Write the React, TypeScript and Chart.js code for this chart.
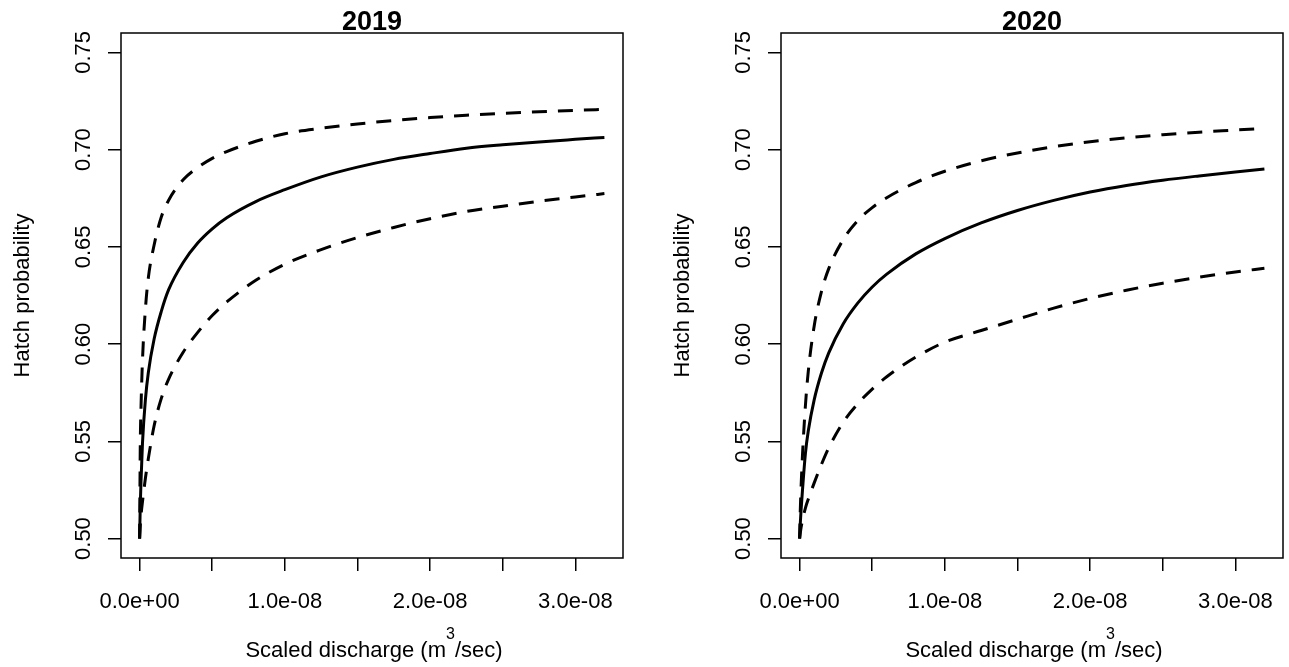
import React, { useEffect, useRef } from "react";
import { Chart, registerables } from "chart.js";

Chart.register(...registerables);

// Scaled discharge (m^3/sec)
const discharge = [
  0, 0.005e-8, 0.01e-8, 0.02e-8, 0.04e-8, 0.06e-8, 0.1e-8, 0.15e-8, 0.2e-8, 0.3e-8,
  0.4e-8, 0.5e-8, 0.6e-8, 0.8e-8, 1.0e-8, 1.25e-8, 1.5e-8, 1.75e-8, 2.0e-8, 2.25e-8,
  2.5e-8, 2.75e-8, 3.0e-8, 3.2e-8,
];

// 2019 panel
const fit2019 = [
  0.5, 0.518, 0.53, 0.5493, 0.5715, 0.5853, 0.6026, 0.617, 0.628, 0.642,
  0.652, 0.6593, 0.665, 0.6733, 0.6794, 0.686, 0.691, 0.695, 0.698, 0.7007,
  0.7025, 0.704, 0.7053, 0.7063,
];
const upper2019 = [
  0.5, 0.55, 0.568, 0.592, 0.618, 0.634, 0.651, 0.6655, 0.674, 0.6845,
  0.6908, 0.6955, 0.699, 0.7043, 0.7082, 0.711, 0.7132, 0.715, 0.7165, 0.7177,
  0.7187, 0.7195, 0.7202, 0.7207,
];
const lower2019 = [
  0.5, 0.507, 0.512, 0.519, 0.531, 0.541, 0.558, 0.5722, 0.582, 0.5958,
  0.606, 0.6147, 0.6217, 0.6328, 0.6411, 0.6486, 0.6548, 0.66, 0.6645, 0.6682,
  0.6709, 0.6735, 0.6757, 0.6774,
];

// 2020 panel
const fit2020 = [
  0.5, 0.508, 0.5145, 0.525, 0.5437, 0.5554, 0.5712, 0.585, 0.5954, 0.6104,
  0.6211, 0.6294, 0.636, 0.6464, 0.6543, 0.6623, 0.6687, 0.6739, 0.6782, 0.6816,
  0.6843, 0.6865, 0.6885, 0.69,
];
const upper2020 = [
  0.5, 0.515, 0.526, 0.543, 0.5683, 0.5861, 0.6091, 0.6269, 0.6387, 0.6537,
  0.6635, 0.6702, 0.6753, 0.6831, 0.6889, 0.6943, 0.6983, 0.7015, 0.7041, 0.7061,
  0.7077, 0.709, 0.7101, 0.711,
];
const lower2020 = [
  0.5, 0.503, 0.5055, 0.5095, 0.5157, 0.5203, 0.5285, 0.538, 0.5465, 0.5598,
  0.5693, 0.5769, 0.5832, 0.5933, 0.601, 0.607, 0.6128, 0.6185, 0.6235, 0.6277,
  0.6313, 0.6344, 0.6371, 0.639,
];

const xTicks = [0, 0.5e-8, 1.0e-8, 1.5e-8, 2.0e-8, 2.5e-8, 3.0e-8];
const xTickLabels = ["0.0e+00", "", "1.0e-08", "", "2.0e-08", "", "3.0e-08"];
const yTicks = [0.5, 0.55, 0.6, 0.65, 0.7, 0.75];
const yTickLabels = ["0.50", "0.55", "0.60", "0.65", "0.70", "0.75"];

const panelTitles = ["2019", "2020"];
const xAxisTitle = ["Scaled discharge (m", "3", "/sec)"];
const yAxisTitle = "Hatch probability";

const FONT = '"Liberation Sans", Arial, Helvetica, sans-serif';
const CW = 629;
const CH = 667;

type PanelProps = {
  title: string;
  fit: number[];
  upper: number[];
  lower: number[];
  left: number;
};

function Panel({ title, fit, upper, lower, left }: PanelProps) {
  const ref = useRef<HTMLCanvasElement | null>(null);

  useEffect(() => {
    if (!ref.current) return;
    const toPts = (ys: number[]) => discharge.map((x, i) => ({ x, y: ys[i] }));

    const textPlugin = {
      id: "rText",
      afterDraw(chart: any) {
        const ctx = chart.ctx as CanvasRenderingContext2D;
        const area = chart.chartArea;
        const xs = chart.scales.x;
        const ys = chart.scales.y;
        ctx.save();
        // box
        ctx.strokeStyle = "#000";
        ctx.lineWidth = 1.5;
        ctx.strokeRect(area.left, area.top, area.right - area.left, area.bottom - area.top);

        ctx.fillStyle = "#000";
        ctx.font = `22px ${FONT}`;
        ctx.textAlign = "center";
        ctx.textBaseline = "alphabetic";
        xTicks.forEach((v, i) => {
          const lab = xTickLabels[i];
          if (!lab) return;
          ctx.fillText(lab, xs.getPixelForValue(v), 608);
        });
        yTicks.forEach((v, i) => {
          ctx.save();
          ctx.translate(90, ys.getPixelForValue(v));
          ctx.rotate(-Math.PI / 2);
          ctx.fillText(yTickLabels[i], 0, 0);
          ctx.restore();
        });
        // y axis title
        ctx.save();
        ctx.translate(29, (area.top + area.bottom) / 2);
        ctx.rotate(-Math.PI / 2);
        ctx.fillText(yAxisTitle, 0, 0);
        ctx.restore();

        // x axis title with superscript
        const cx = (area.left + area.right) / 2;
        ctx.font = `22px ${FONT}`;
        const wa = ctx.measureText(xAxisTitle[0]).width;
        const wb = ctx.measureText(xAxisTitle[2]).width;
        ctx.font = `16px ${FONT}`;
        const ws = ctx.measureText(xAxisTitle[1]).width;
        let sx = cx - (wa + ws + wb) / 2 + 2;
        ctx.textAlign = "left";
        ctx.font = `22px ${FONT}`;
        ctx.fillText(xAxisTitle[0], sx, 657);
        sx += wa;
        ctx.font = `16px ${FONT}`;
        ctx.fillText(xAxisTitle[1], sx, 639);
        sx += ws;
        ctx.font = `22px ${FONT}`;
        ctx.fillText(xAxisTitle[2], sx, 657);

        // panel title
        ctx.textAlign = "center";
        ctx.font = `bold 27px ${FONT}`;
        ctx.fillText(title, cx, 30);
        ctx.restore();
      },
    };

    const lineBase = {
      borderColor: "#000",
      borderWidth: 3,
      pointRadius: 0,
      fill: false,
      cubicInterpolationMode: "monotone" as const,
    };

    const chart = new Chart(ref.current, {
      type: "line",
      data: {
        datasets: [
          { ...lineBase, label: "upper", data: toPts(upper), borderDash: [15, 11] },
          { ...lineBase, label: "fit", data: toPts(fit) },
          { ...lineBase, label: "lower", data: toPts(lower), borderDash: [15, 11] },
        ],
      },
      options: {
        responsive: false,
        animation: false,
        devicePixelRatio: 1,
        layout: { padding: { left: 0, right: CW - 623, top: 33, bottom: 0 } },
        plugins: {
          legend: { display: false },
          tooltip: { enabled: false },
          title: { display: false },
        },
        scales: {
          x: {
            type: "linear",
            position: "bottom",
            min: -0.128e-8,
            max: 3.328e-8,
            afterBuildTicks: (s: any) => {
              s.ticks = xTicks.map((v) => ({ value: v }));
            },
            afterFit: (s: any) => {
              s.height = CH - 558;
            },
            ticks: { display: false },
            grid: {
              display: true,
              drawOnChartArea: false,
              drawTicks: true,
              tickLength: 13,
              color: "#000",
              lineWidth: 1.5,
            },
            border: { display: false },
          },
          y: {
            type: "linear",
            position: "left",
            min: 0.49,
            max: 0.76,
            afterBuildTicks: (s: any) => {
              s.ticks = yTicks.map((v) => ({ value: v }));
            },
            afterFit: (s: any) => {
              s.width = 121;
            },
            ticks: { display: false },
            grid: {
              display: true,
              drawOnChartArea: false,
              drawTicks: true,
              tickLength: 13,
              color: "#000",
              lineWidth: 1.5,
            },
            border: { display: false },
          },
        },
      },
      plugins: [textPlugin],
    });
    return () => chart.destroy();
  }, [title, fit, upper, lower]);

  return (
    <canvas
      ref={ref}
      width={CW}
      height={CH}
      style={{ position: "absolute", left, top: 0, width: CW, height: CH }}
    />
  );
}

export default function App() {
  return (
    <div
      style={{
        position: "absolute",
        left: 0,
        top: 0,
        width: 1289,
        height: 667,
        background: "#fff",
        overflow: "hidden",
      }}
    >
      <Panel title={panelTitles[0]} fit={fit2019} upper={upper2019} lower={lower2019} left={0} />
      <Panel title={panelTitles[1]} fit={fit2020} upper={upper2020} lower={lower2020} left={660} />
    </div>
  );
}
